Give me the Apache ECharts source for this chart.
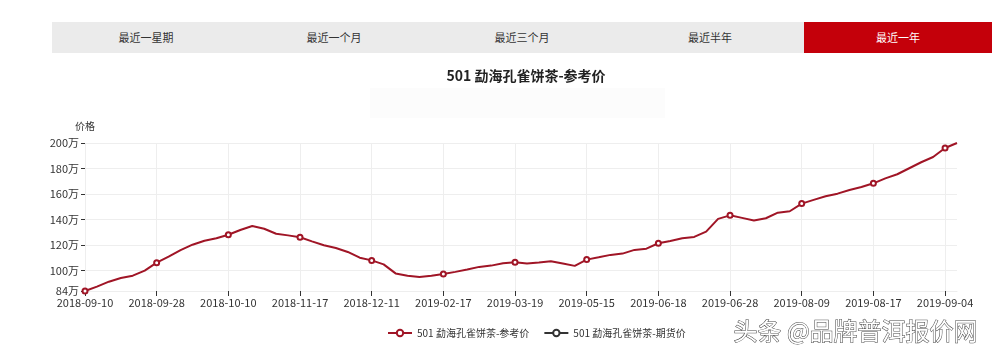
<!DOCTYPE html>
<html>
<head>
<meta charset="utf-8">
<script src="https://cdn.jsdelivr.net/npm/echarts@6/dist/echarts.min.js"></script>
<style>
  html, body { margin: 0; padding: 0; background: #fff; }
  #wrap { position: relative; width: 1000px; height: 355px; }
  #main { position: absolute; left: 0; top: 0; width: 1000px; height: 355px; }
  .tabs { position: absolute; left: 52px; top: 22px; width: 940px; height: 31px; background: #ebebeb; display: flex; z-index: 2; }
  .tab { flex: 1; text-align: center; line-height: 31px; font-size: 11px; color: #333;
    font-family: 'Microsoft YaHei', 'Noto Sans CJK SC', sans-serif; }
  .tab.on { background: #c4000a; color: #fff; }
</style>
</head>
<body>
<div id="wrap">
  <div id="main"></div>
  <div class="tabs" id="tabs"></div>
</div>
<script>
const tabNames = ['最近一星期', '最近一个月', '最近三个月', '最近半年', '最近一年'];
const activeTab = 4;

const titleText = '501 勐海孔雀饼茶-参考价';
const refName = '501 勐海孔雀饼茶-参考价';
const futName = '501 勐海孔雀饼茶-期货价';

// dates, only every 6th one is shown on the axis
const dates = [
  '2018-09-10', '2018-09-13', '2018-09-16', '2018-09-19', '2018-09-22', '2018-09-25',
  '2018-09-28', '2018-09-30', '2018-10-02', '2018-10-04', '2018-10-06', '2018-10-08',
  '2018-10-10', '2018-10-16', '2018-10-22', '2018-10-28', '2018-11-03', '2018-11-10',
  '2018-11-17', '2018-11-21', '2018-11-25', '2018-11-29', '2018-12-03', '2018-12-07',
  '2018-12-11', '2018-12-20', '2018-12-29', '2019-01-08', '2019-01-18', '2019-02-05',
  '2019-02-17', '2019-02-22', '2019-02-27', '2019-03-04', '2019-03-09', '2019-03-14',
  '2019-03-19', '2019-03-29', '2019-04-08', '2019-04-18', '2019-04-28', '2019-05-06',
  '2019-05-15', '2019-05-21', '2019-05-27', '2019-06-02', '2019-06-08', '2019-06-13',
  '2019-06-18', '2019-06-20', '2019-06-22', '2019-06-24', '2019-06-25', '2019-06-26',
  '2019-06-28', '2019-07-05', '2019-07-12', '2019-07-19', '2019-07-26', '2019-08-02',
  '2019-08-09', '2019-08-10', '2019-08-12', '2019-08-13', '2019-08-14', '2019-08-16',
  '2019-08-17', '2019-08-20', '2019-08-23', '2019-08-26', '2019-08-29', '2019-09-01',
  '2019-09-04', '2019-09-06'
];

// reference price, unit 万
const refPrice = [
  84, 87.4, 91.3, 94.2, 96.0, 100.0,
  106.2, 110.9, 116.1, 120.3, 123.4, 125.3,
  128.1, 131.8, 134.9, 132.8, 128.9, 127.6,
  126.1, 122.9, 119.8, 117.7, 114.6, 110.1,
  108.0, 104.9, 97.8, 96.0, 95.0, 96.0,
  97.3, 99.0, 100.8, 102.9, 103.9, 105.7,
  106.5, 105.5, 106.3, 107.3, 105.5, 103.7,
  108.6, 110.4, 112.3, 113.3, 116.2, 117.2,
  121.4, 123.2, 125.3, 126.4, 130.5, 140.5,
  143.3, 141.3, 139.2, 141.0, 145.4, 146.5,
  152.5, 155.4, 158.2, 160.3, 163.2, 165.5,
  168.4, 172.3, 175.5, 180.2, 184.9, 189.0,
  196.1, 200
];
const futPrice = [];

const labelStep = 6;
const fontFamily = "'Microsoft YaHei', 'Noto Sans CJK SC', sans-serif";

// tabs
let tabsEl = document.getElementById('tabs');
for (var i = 0; i < tabNames.length; i++) {
  let d = document.createElement('div');
  d.className = 'tab' + (i == activeTab ? ' on' : '');
  d.textContent = tabNames[i];
  tabsEl.appendChild(d);
}

var myChart = echarts.init(document.getElementById('main'));
myChart.setOption({
  animation: false,
  textStyle: { fontFamily: fontFamily },
  title: {
    text: titleText,
    left: 521,
    top: 64,
    textAlign: 'center',
    textStyle: { fontSize: 14, fontWeight: 'bold', color: '#222', fontFamily: fontFamily }
  },
  legend: {
    left: 382,
    top: 323,
    itemWidth: 24,
    itemHeight: 8,
    itemGap: 14,
    textStyle: { fontSize: 10, color: '#333' },
    data: [refName, futName]
  },
  grid: { left: 85, right: 43, top: 143, bottom: 64 },
  xAxis: {
    type: 'category',
    boundaryGap: false,
    data: dates,
    axisLine: { lineStyle: { color: '#eee' } },
    axisTick: { interval: labelStep - 1, lineStyle: { color: '#333' } },
    axisLabel: { interval: labelStep - 1, color: '#333', fontSize: 11, margin: 6 },
    splitLine: { show: true, interval: labelStep - 1, lineStyle: { color: '#eee' } }
  },
  yAxis: {
    type: 'value',
    name: '价格',
    nameGap: 12,
    nameTextStyle: { color: '#333', fontSize: 10 },
    min: 84,
    max: 200,
    splitNumber: 6,
    axisLine: { show: false },
    axisTick: { show: true, length: 4, lineStyle: { color: '#333' } },
    axisLabel: { color: '#333', fontSize: 11, margin: 6, formatter: '{value}万' },
    splitLine: { lineStyle: { color: '#eee' } }
  },
  graphic: [
    {
      type: 'rect',
      shape: { x: 370, y: 88, width: 295, height: 30 },
      style: { fill: '#fcfcfc' },
      silent: true
    },
    {
      type: 'text',
      left: 733,
      top: 318,
      style: {
        text: '头条 @品牌普洱报价网',
        font: "24px 'Noto Sans CJK SC', sans-serif",
        fill: '#fff',
        stroke: '#444',
        lineWidth: 1,
        shadowColor: 'rgba(0,0,0,0.6)',
        shadowOffsetX: 1,
        shadowOffsetY: 1,
        shadowBlur: 1
      },
      z: 100
    }
  ],
  series: [
    {
      name: refName,
      type: 'line',
      data: refPrice,
      color: '#a01526',
      symbol: 'emptyCircle',
      showAllSymbol: true,
      symbolSize: function (v, params) {
        return params.dataIndex % labelStep == 0 ? 5 : 0;
      },
      lineStyle: { width: 2, color: '#a01526' },
      itemStyle: { color: '#a01526', borderWidth: 1 }
    },
    {
      name: futName,
      type: 'line',
      data: futPrice,
      color: '#333',
      symbol: 'emptyCircle'
    }
  ]
});
</script>
</body>
</html>
